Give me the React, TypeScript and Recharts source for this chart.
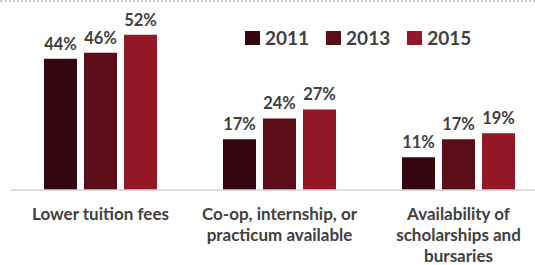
import { BarChart, Bar, XAxis, YAxis, LabelList } from "recharts";

const categories = [
  "Lower tuition fees",
  "Co-op, internship, or\npracticum available",
  "Availability of\nscholarships and\nbursaries",
];
const years = ["2011", "2013", "2015"];
const values2011 = [44, 17, 11];
const values2013 = [46, 24, 17];
const values2015 = [52, 27, 19];

const COLORS = ["#33070d", "#5c0e18", "#931727"];
const TEXT = "#404040";
const FONT = "Lato, 'Open Sans', sans-serif";

const chartData = categories.map((name, i) => ({
  name,
  y2011: values2011[i],
  y2013: values2013[i],
  y2015: values2015[i],
}));

const CategoryTick = (props: any) => {
  const { x, y, payload } = props;
  const lines = String(payload.value).split("\n");
  return (
    <g transform={`translate(${x},${y})`}>
      {lines.map((line, i) => (
        <text
          key={i}
          x={0}
          y={22 + i * 21}
          textAnchor="middle"
          fill={TEXT}
          fontSize={17}
          fontWeight={700}
          fontFamily={FONT}
        >
          {line}
        </text>
      ))}
    </g>
  );
};

const YearLegend = () => (
  <div style={{ display: "flex", alignItems: "center", fontFamily: FONT }}>
    {years.map((yr, i) => (
      <div key={yr} style={{ display: "flex", alignItems: "center", marginRight: 17 }}>
        <span style={{ width: 15, height: 14, background: COLORS[i], display: "inline-block", marginRight: 5 }} />
        <span style={{ fontSize: 19, fontWeight: 700, color: TEXT, lineHeight: "20px" }}>{yr}</span>
      </div>
    ))}
  </div>
);

export default function App() {
  const keys = ["y2011", "y2013", "y2015"];
  return (
    <div style={{ position: "absolute", left: 0, top: 0, width: 535, height: 265, overflow: "hidden", background: "#fff" }}>
      <div style={{ position: "absolute", left: 0, top: 0, width: 535, borderTop: "2px dotted #c8c8c8" }} />
      <div style={{ position: "absolute", left: 245, top: 28 }}>
        <YearLegend />
      </div>
      <BarChart
        width={560}
        height={265}
        data={chartData}
        margin={{ top: 11, right: 12, bottom: 0, left: 11 }}
        barGap={7}
        barSize={33}
      >
        <XAxis
          dataKey="name"
          axisLine={{ stroke: "#d4d4d4", strokeWidth: 1.5 }}
          tickLine={false}
          interval={0}
          height={75}
          tick={<CategoryTick />}
        />
        <YAxis hide domain={[0, 60]} />
        {keys.map((k, i) => (
          <Bar key={k} dataKey={k} fill={COLORS[i]} isAnimationActive={false}>
            <LabelList
              dataKey={k}
              position="top"
              offset={9}
              formatter={(v: any) => `${v}%`}
              fill={TEXT}
              fontSize={16.5}
              fontWeight={700}
              fontFamily={FONT}
            />
          </Bar>
        ))}
      </BarChart>
    </div>
  );
}
